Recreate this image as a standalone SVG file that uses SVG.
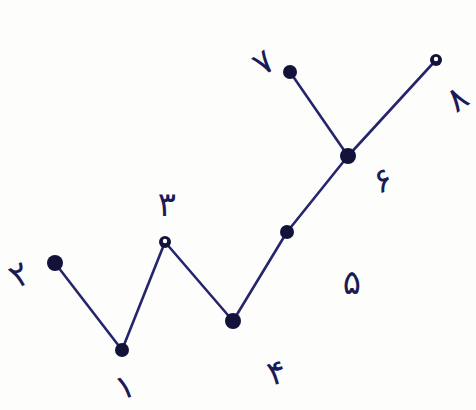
<svg xmlns="http://www.w3.org/2000/svg" width="476" height="410" viewBox="0 0 476 410">
<style>
.e{stroke:#25256e;stroke-width:2.6;stroke-linecap:round;fill:none}
.n{fill:#12123a}
.h{fill:#12123a}
.hc{fill:#ffffff}
.t{font-family:"DejaVu Sans",sans-serif;font-size:34px;fill:#1a1a55;text-anchor:middle}
</style>
<rect width="476" height="410" fill="#fdfdfb"/>
<g id="edges">
<line class="e" x1="55" y1="263" x2="122" y2="350"/>
<line class="e" x1="122" y1="350" x2="165" y2="242"/>
<line class="e" x1="165" y1="242" x2="233" y2="321"/>
<line class="e" x1="233" y1="321" x2="287" y2="232"/>
<line class="e" x1="287" y1="232" x2="348" y2="156"/>
<line class="e" x1="348" y1="156" x2="290" y2="72"/>
<line class="e" x1="348" y1="156" x2="436" y2="60"/>
</g>
<g id="n1"><circle class="n" cx="122" cy="350" r="7"/><text class="t" x="126" y="398" transform="rotate(-20 126 390)">۱</text></g>
<g id="n2"><circle class="n" cx="55" cy="263" r="8"/><text class="t" x="20" y="286" transform="rotate(-30 20 275)">۲</text></g>
<g id="n3"><circle class="h" cx="165" cy="242" r="6"/><circle class="hc" cx="165" cy="241" r="2.2"/><text class="t" x="167" y="216">۳</text></g>
<g id="n4"><circle class="n" cx="233" cy="321" r="8"/><text class="t" x="276" y="384" transform="rotate(-15 276 370)">۴</text></g>
<g id="n5"><circle class="n" cx="287" cy="232" r="7"/><text class="t" x="352" y="294">۵</text></g>
<g id="n6"><circle class="n" cx="348" cy="156" r="8"/><text class="t" x="382" y="192" transform="rotate(-20 382 178)">۶</text></g>
<g id="n7"><circle class="n" cx="290" cy="72" r="7"/><text class="t" x="263" y="74" transform="rotate(-35 263 62)">۷</text></g>
<g id="n8"><circle class="h" cx="436" cy="60" r="6"/><circle class="hc" cx="436" cy="59" r="2.2"/><text class="t" x="458" y="110" transform="rotate(-35 458 100)">۸</text></g>
</svg>
